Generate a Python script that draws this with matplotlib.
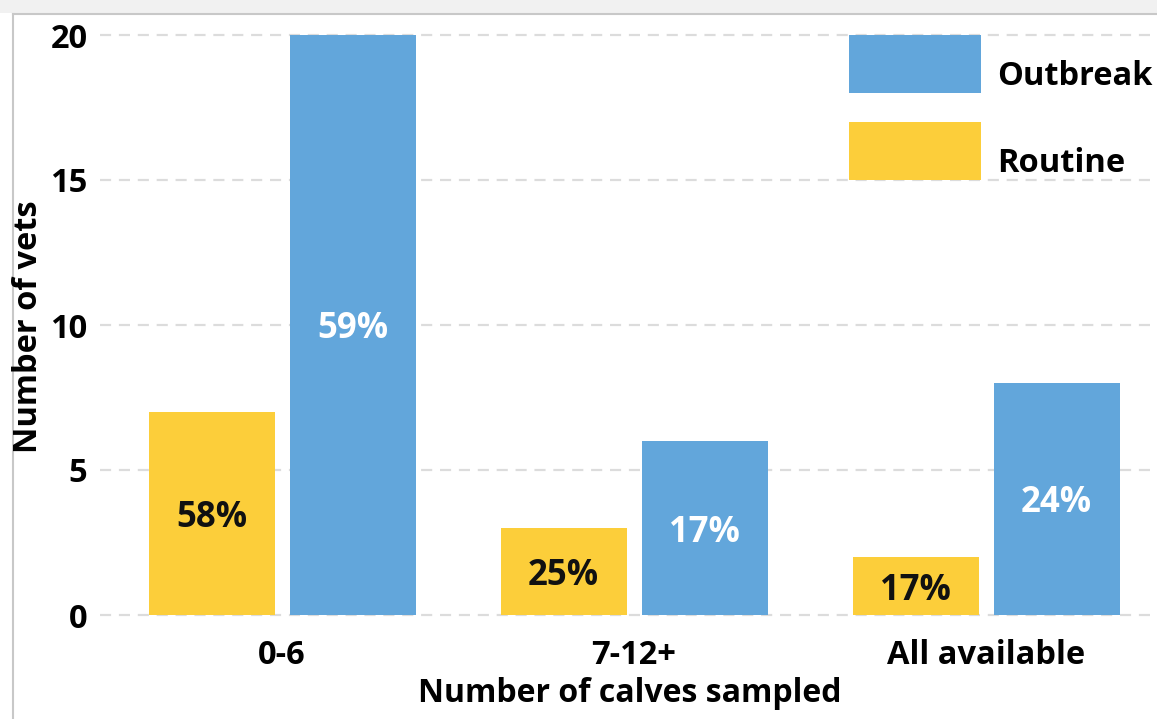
import matplotlib
matplotlib.use("Agg")
import matplotlib.pyplot as plt
from matplotlib.patches import Patch, Rectangle
from matplotlib.lines import Line2D
from matplotlib.legend_handler import HandlerPatch
import numpy as np

categories = ["0-6", "7-12+", "All available"]
routine = [7, 3, 2]
outbreak = [20, 6, 8]
routine_pct = ["58%", "25%", "17%"]
outbreak_pct = ["59%", "17%", "24%"]
yticks = [0, 5, 10, 15, 20]

BLUE = "#62a6db"
YELLOW = "#fcce3a"
FONT = "Open Sans"

plt.rcParams['font.family'] = [FONT, 'DejaVu Sans']
plt.rcParams['font.weight'] = 'bold'

W, H = 1157, 719
fig = plt.figure(figsize=(W / 100, H / 100), dpi=100)
fig.patch.set_facecolor("white")

# frame of the screenshot
fig.patches.append(Rectangle((0, 1 - 13 / H), 1, 13 / H, transform=fig.transFigure,
                             facecolor="#f1f1f1", edgecolor="none", zorder=0))
fig.lines.append(Line2D([13 / W, 1], [1 - 14 / H, 1 - 14 / H], transform=fig.transFigure,
                        color="#c8c8c8", lw=1.5))
fig.lines.append(Line2D([13 / W, 13 / W], [0, 1 - 14 / H], transform=fig.transFigure,
                        color="#c8c8c8", lw=1.5))

# axes placement (pixels)
ax_left, ax_right = 100, 1152
ylo, yhi = -0.5, 20.5
px_per_unit = 29.0
bottom_px = 615 + 0.5 * px_per_unit
top_px = 35 - 0.5 * px_per_unit
ax = fig.add_axes([ax_left / W, (H - bottom_px) / H, (ax_right - ax_left) / W,
                   (bottom_px - top_px) / H])

x = np.arange(len(categories))
bw = 126 / 352
off = 70.5 / 352
b1 = ax.bar(x - off, routine, bw, color=YELLOW, zorder=2, label="Routine")
b2 = ax.bar(x + off, outbreak, bw, color=BLUE, zorder=2, label="Outbreak")

PFS = 25
for rect, txt in zip(b1, routine_pct):
    ax.text(rect.get_x() + rect.get_width() / 2, rect.get_height() / 2, txt,
            ha="center", va="center_baseline", fontsize=PFS, fontweight="bold",
            color="#111111", zorder=3)
for rect, txt in zip(b2, outbreak_pct):
    ax.text(rect.get_x() + rect.get_width() / 2, rect.get_height() / 2, txt,
            ha="center", va="center_baseline", fontsize=PFS, fontweight="bold",
            color="white", zorder=3)

TFS = 23.5
ax.set_xlim((ax_left - 282) / 352, (ax_right - 282) / 352)
ax.set_ylim(ylo, yhi)
ax.set_yticks(yticks)
ax.set_xticks(x)
ax.set_xticklabels(categories)
for s in ax.spines.values():
    s.set_visible(False)
ax.tick_params(axis="both", length=0, labelsize=TFS)
ax.tick_params(axis="y", pad=9)
ax.tick_params(axis="x", pad=6.5)
for lab in ax.get_xticklabels() + ax.get_yticklabels():
    lab.set_fontweight("bold")
ax.yaxis.grid(True, color="#dcdcdc", linestyle=(0, (5, 3.5)), linewidth=1.6, zorder=0)
ax.set_axisbelow(True)

fig.text(29 / W, 1 - 327 / H, "Number of vets", rotation=90, ha="center", va="center",
         fontsize=TFS, fontweight="bold")
fig.text(630 / W, 1 - 694 / H, "Number of calves sampled", ha="center", va="center",
         fontsize=TFS - 0.5, fontweight="bold")

fs = 23.5
fs_px = fs * 100 / 72
hh = (58 / fs_px - 0.245) / 0.65
shift_px = 11
shift_pt = shift_px * 72 / 100


def raised_rect(legend, orig_handle, xdescent, ydescent, width, height, fontsize):
    return Rectangle((-xdescent, -ydescent + shift_pt), width, height)


handles = [Patch(facecolor=BLUE, edgecolor="none"), Patch(facecolor=YELLOW, edgecolor="none")]
leg = ax.legend(handles, ["Outbreak", "Routine"], loc="upper left",
                bbox_to_anchor=(849 / W, 1 - (35 + shift_px) / H), bbox_transform=fig.transFigure,
                frameon=False, borderpad=0, borderaxespad=0,
                handlelength=132 / fs_px, handleheight=hh,
                labelspacing=29 / fs_px, handletextpad=16 / fs_px,
                handler_map={Patch: HandlerPatch(patch_func=raised_rect)},
                prop={"family": FONT, "weight": "bold", "size": fs})

fig.savefig("out.png", dpi=100)
